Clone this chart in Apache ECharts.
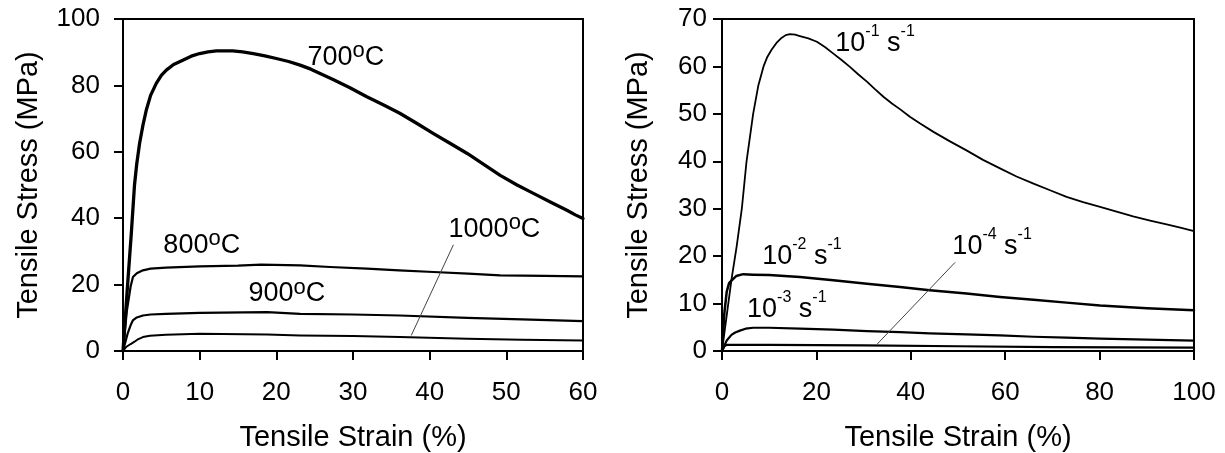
<!DOCTYPE html>
<html>
<head>
<meta charset="utf-8">
<script src="https://cdn.jsdelivr.net/npm/echarts@6/dist/echarts.min.js"></script>
<style>html,body{margin:0;padding:0;background:#fff}#c{width:1225px;height:453px}</style>
</head>
<body>
<div id="c"></div>
<script>
// ---- Left panel: temperature series (strain %, stress MPa)
var curve700 = [[0,0],[0.6,20],[1.07,35],[1.5,50],[1.8,56.5],[2.16,62.5],[2.6,68],[3.03,72.5],[3.6,77],[4.34,80.6],[5.0,83],[5.65,84.6],[6.6,86.3],[7.8,87.6],[8.9,88.8],[10,89.6],[11.1,90.1],[12.2,90.4],[14.3,90.4],[15.6,90.1],[17,89.6],[18.5,88.9],[20,88.1],[21.6,87.2],[23.1,86.1],[24.5,84.9],[25.7,83.6],[27.4,81.8],[29.6,79.3],[31.8,76.6],[34,74.1],[36.1,71.6],[38.3,68.6],[40.5,65.5],[42.7,62.5],[44.9,59.5],[47,56.3],[49.2,52.9],[51.4,50.0],[53.6,47.4],[55.8,44.8],[57.9,42.4],[59,41.0],[60,39.9]];
var curve800 = [[0,0],[0.5,12],[1.0,19.5],[1.3,22.3],[1.8,23.4],[2.6,24.3],[3.6,24.8],[5.6,25.1],[10,25.5],[15,25.7],[18,26],[23.1,25.8],[27,25.3],[31.8,24.8],[36,24.3],[40.5,23.8],[45,23.3],[49.2,22.8],[55,22.6],[60,22.5]];
var curve900 = [[0,0],[0.6,5.2],[1.0,7.8],[1.28,9.2],[1.8,10.1],[2.6,10.7],[3.6,11.0],[5.6,11.2],[10,11.5],[18.8,11.7],[23.1,11.2],[30,11],[36.1,10.7],[44.9,10.0],[52,9.5],[60,9.0]];
var curve1000 = [[0,0],[0.4,1.2],[1.0,2.1],[1.5,2.8],[2.0,3.6],[2.6,4.2],[3.5,4.6],[5.6,4.9],[10,5.2],[18.8,5.0],[23.1,4.7],[30,4.5],[36.1,4.2],[44.9,3.7],[52,3.4],[60,3.2]];
var leaderLeft = [[43.1,32.0],[37.6,4.7]];
var labelsLeft = ['700', '800', '900', '1000'];

// ---- Right panel: strain-rate series
var rate1 = [[0,0],[1,7.5],[2,15],[3.1,22],[4.2,30],[5.2,40],[6.6,50],[7.7,56],[8.8,60],[9.6,62],[10.5,63.5],[11.5,64.9],[12.6,66],[13.5,66.6],[14.4,66.8],[15.5,66.7],[16.5,66.4],[18.3,65.9],[20.1,65.2],[21.8,64.1],[23.6,62.7],[25.4,61.3],[27.1,59.9],[28.9,58.3],[30.7,56.8],[32.4,55.2],[34.2,53.6],[36,52.2],[37.7,51.0],[39.8,49.4],[41.9,48.0],[44.8,46.2],[48.3,44.2],[51.8,42.3],[55.3,40.3],[58.9,38.5],[62.4,36.8],[66,35.3],[69.5,33.9],[73,32.5],[76.5,31.4],[80.1,30.4],[83.6,29.4],[87.1,28.4],[90.7,27.5],[94.2,26.7],[97.1,26.0],[100,25.3]];
var rate2 = [[0,0],[0.5,8],[1,12.5],[1.5,14.3],[2.05,14.9],[3,15.8],[4.5,16.2],[6.6,16.1],[10,16],[16.5,15.6],[23.6,14.9],[30.7,14.2],[37.7,13.5],[44,12.8],[51.8,12.1],[58.9,11.4],[66,10.8],[73,10.2],[80.1,9.6],[90,9.0],[100,8.6]];
var rate3 = [[0,0],[1,2.2],[2,3.4],[2.8,3.9],[3.8,4.3],[5,4.7],[6.6,4.9],[10,4.9],[16.5,4.7],[23.6,4.5],[30.7,4.2],[37.7,4.0],[44,3.7],[51.8,3.5],[58.9,3.3],[66,3.0],[73,2.8],[80.1,2.6],[90,2.4],[100,2.2]];
var rate4 = [[0,0],[0.5,1.0],[1,1.3],[10,1.3],[30,1.2],[50,1.0],[70,0.8],[100,0.7]];
var leaderRight = [[49.4,18.7],[32.8,1.37]];
var labelsRight = ['-1', '-2', '-3', '-4'];

var FONT = 'Liberation Sans, Arial, sans-serif';
var richStyle = {
  t: {fontSize: 27, fontFamily: FONT, color: '#000', lineHeight: 34},
  o: {fontSize: 22, fontFamily: FONT, color: '#000', verticalAlign: 'top'},
  r: {fontSize: 27, fontFamily: FONT, color: '#000', lineHeight: 39},
  e: {fontSize: 16, fontFamily: FONT, color: '#000', verticalAlign: 'top'}
};
function tempLabel(t){ return '{t|' + t + '}{o|o}{t|C}'; }
function rateLabel(r){ return '{r|10}{e|' + r + '}{r| s}{e|-1}'; }

function lineSeries(data, xi, w){
  return {type:'line', xAxisIndex:xi, yAxisIndex:xi, data:data, showSymbol:false, symbol:'none',
    smooth:false, silent:true,
    lineStyle:{color:'#000', width:w, join:'round', cap:'round'}};
}
function leader(data, xi){
  return {type:'line', xAxisIndex:xi, yAxisIndex:xi, data:data, showSymbol:false, symbol:'none', silent:true,
    lineStyle:{color:'#444', width:1}};
}
function labelSeries(items, xi){
  return {type:'scatter', xAxisIndex:xi, yAxisIndex:xi, symbolSize:1, silent:true,
    itemStyle:{color:'rgba(255,255,255,0)'},
    label:{show:true, position:'right', distance:0, align:'left', verticalAlign:'middle',
      color:'#000', opacity:1, textBorderWidth:0, fontSize:27, fontFamily:FONT,
      formatter:function(p){ return p.data.text; }, rich: richStyle},
    emphasis:{disabled:true},
    data: items};
}

var axisCommon = {
  axisLine:{show:true, onZero:false, lineStyle:{color:'#000', width:2}},
  axisTick:{show:true, inside:false, length:9, lineStyle:{color:'#000', width:2}},
  splitLine:{show:false},
  nameLocation:'middle',
  nameTextStyle:{fontSize:29, fontFamily:FONT, color:'#000'}
};
function ax(extra){ return Object.assign({}, JSON.parse(JSON.stringify(axisCommon)), extra); }

var option = {
  animation:false,
  backgroundColor:'#fff',
  grid:[
    {left:123, top:19, width:460, bottom:102, show:true, borderColor:'#000', borderWidth:2, containLabel:false, outerBoundsMode:'none'},
    {left:722, top:19, width:472, bottom:102, show:true, borderColor:'#000', borderWidth:2, containLabel:false, outerBoundsMode:'none'}
  ],
  xAxis:[
    ax({type:'value', gridIndex:0, min:0, max:60, interval:10, name:'Tensile Strain (%)', nameGap:72,
      axisLabel:{fontSize:26, fontFamily:FONT, color:'#000', margin:29}}),
    ax({type:'value', gridIndex:1, min:0, max:100, interval:20, name:'Tensile Strain (%)', nameGap:72,
      axisLabel:{fontSize:26, fontFamily:FONT, color:'#000', margin:29}})
  ],
  yAxis:[
    ax({type:'value', gridIndex:0, min:0, max:100, interval:20, name:'Tensile Stress (MPa)', nameGap:80,
      axisLabel:{fontSize:26, fontFamily:FONT, color:'#000', margin:23}}),
    ax({type:'value', gridIndex:1, min:0, max:70, interval:10, name:'Tensile Stress (MPa)', nameGap:69,
      axisLabel:{fontSize:26, fontFamily:FONT, color:'#000', margin:15}})
  ],
  series:[
    lineSeries(curve700, 0, 3.3),
    lineSeries(curve800, 0, 2.2),
    lineSeries(curve900, 0, 2.2),
    lineSeries(curve1000, 0, 2),
    leader(leaderLeft, 0),
    labelSeries([
      {value:[24.0,88.5], text:tempLabel(labelsLeft[0])},
      {value:[5.2,31.8], text:tempLabel(labelsLeft[1])},
      {value:[16.3,17.2], text:tempLabel(labelsLeft[2])},
      {value:[42.4,36.7], text:tempLabel(labelsLeft[3])}
    ], 0),
    lineSeries(rate1, 1, 1.8),
    lineSeries(rate2, 1, 2.5),
    lineSeries(rate3, 1, 2.2),
    lineSeries(rate4, 1, 2.2),
    leader(leaderRight, 1),
    labelSeries([
      {value:[23.9,64.9], text:rateLabel(labelsRight[0])},
      {value:[8.4,20.0], text:rateLabel(labelsRight[1])},
      {value:[5.2,8.8], text:rateLabel(labelsRight[2])},
      {value:[48.7,22.1], text:rateLabel(labelsRight[3])}
    ], 1)
  ]
};
var chart = echarts.init(document.getElementById('c'), null, {renderer:'canvas'});
chart.setOption(option);
</script>
</body>
</html>
